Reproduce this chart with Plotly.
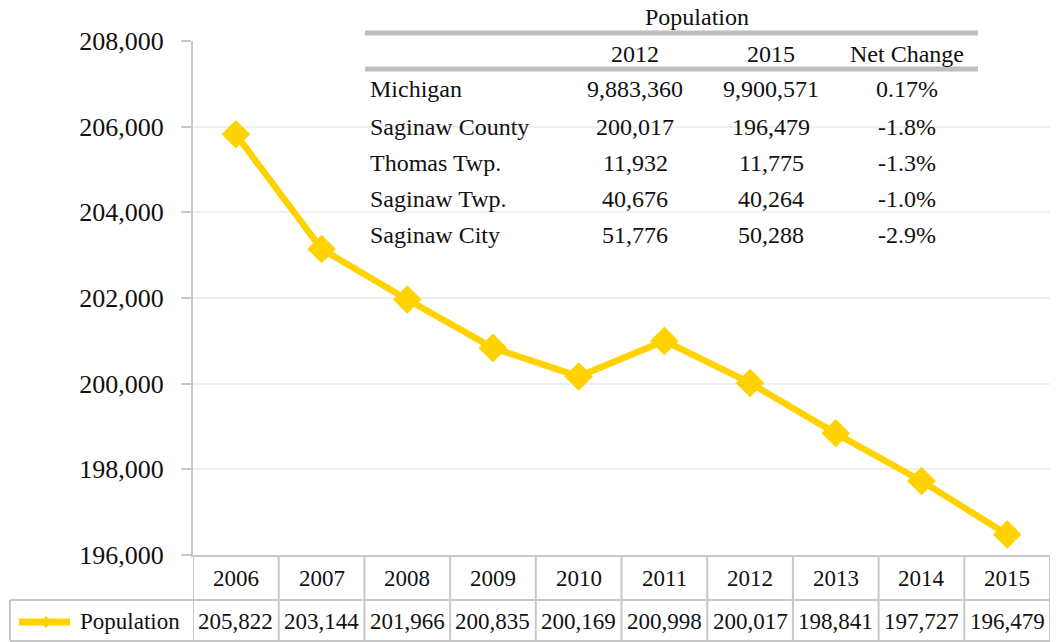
import plotly.graph_objects as go

years = ["2006", "2007", "2008", "2009", "2010", "2011", "2012", "2013", "2014", "2015"]
population = [205822, 203144, 201966, 200835, 200169, 200998, 200017, 198841, 197727, 196479]
series_name = "Population"

inset_title = "Population"
inset_cols = ["2012", "2015", "Net Change"]
inset_places = ["Michigan", "Saginaw County", "Thomas Twp.", "Saginaw Twp.", "Saginaw City"]
inset_2012 = ["9,883,360", "200,017", "11,932", "40,676", "51,776"]
inset_2015 = ["9,900,571", "196,479", "11,775", "40,264", "50,288"]
inset_change = ["0.17%", "-1.8%", "-1.3%", "-1.0%", "-2.9%"]

FONT = "'Liberation Serif', 'Times New Roman', serif"
YEL = "#FFD200"
GRID = "#EFEFEF"
LINEC = "#C8C8C8"
TXT = "#111111"

W, H = 1058, 642
L, R, T, B = 193, 8, 41, 87
PW, PH = W - L - R, H - T - B


def px(x):
    return (x - L) / PW


def py(y):
    return (T + PH - y) / PH


fig = go.Figure()
fig.add_trace(go.Scatter(
    x=list(range(len(years))), y=population, mode="lines+markers",
    line=dict(color=YEL, width=6.5),
    marker=dict(symbol="diamond", size=22, color=YEL),
    showlegend=False, hoverinfo="skip"))

shapes = []
ann = []


def text(x, y, t, size, xref="paper", xanchor="center"):
    ann.append(dict(x=x, y=y, xref=xref, yref="paper", text=t, showarrow=False,
                    xanchor=xanchor, yanchor="middle",
                    font=dict(family=FONT, size=size, color=TXT)))


# data table below the plot
row_line = py(600)
bottom = py(641)
for i in range(len(years) + 1):
    shapes.append(dict(type="line", xref="x", yref="paper", x0=i - 0.5, x1=i - 0.5,
                       y0=0, y1=bottom, line=dict(color=LINEC, width=2)))
for yy in (row_line, bottom):
    shapes.append(dict(type="line", xref="paper", yref="paper", x0=px(10), x1=1,
                       y0=yy, y1=yy, line=dict(color=LINEC, width=2)))
shapes.append(dict(type="line", xref="paper", yref="paper", x0=px(10), x1=px(10),
                   y0=row_line, y1=bottom, line=dict(color=LINEC, width=2)))
for i, (yr, v) in enumerate(zip(years, population)):
    text(i, py(578), yr, 23, xref="x")
    text(i, py(621), f"{v:,}", 23, xref="x")

# legend key
ky = py(622)
shapes.append(dict(type="line", xref="paper", yref="paper", x0=px(19), x1=px(70),
                   y0=ky, y1=ky, line=dict(color=YEL, width=7)))
cx, hw, hh = px(46), 6 / PW, 6 / PH
shapes.append(dict(type="path", xref="paper", yref="paper",
                   path=f"M {cx-hw} {ky} L {cx} {ky+hh} L {cx+hw} {ky} L {cx} {ky-hh} Z",
                   fillcolor=YEL, line=dict(color=YEL, width=0)))
text(px(130), py(621), series_name, 23)

# inset table
for yy in (33, 69):
    shapes.append(dict(type="line", xref="paper", yref="paper", x0=px(365), x1=px(978),
                       y0=py(yy), y1=py(yy), line=dict(color="#BFBFBF", width=5)))
text(px(697), py(17), inset_title, 24)
col_x = [635, 771, 907]
for cxp, c in zip(col_x, inset_cols):
    text(px(cxp), py(54), c, 24)
row_y = [89, 127, 163, 199, 235]
for ry, name, a, b, c in zip(row_y, inset_places, inset_2012, inset_2015, inset_change):
    text(px(368), py(ry), name, 24, xanchor="left")
    for cxp, t in zip(col_x, (a, b, c)):
        text(px(cxp), py(ry), t, 24)

fig.update_layout(
    width=W, height=H,
    margin=dict(l=L, r=R, t=T, b=B),
    paper_bgcolor="white", plot_bgcolor="white",
    font=dict(family=FONT, color=TXT),
    shapes=shapes, annotations=ann,
    xaxis=dict(range=[-0.5, len(years) - 0.5], showticklabels=False, showgrid=False,
               zeroline=False, showline=True, linecolor=LINEC, linewidth=2, ticks=""),
    yaxis=dict(range=[196000, 208000], dtick=2000, tickformat=",", showgrid=True,
               gridcolor=GRID, gridwidth=2, zeroline=False, showline=True,
               linecolor=LINEC, linewidth=2, ticks="outside", ticklen=10,
               tickcolor=LINEC, tickwidth=2, ticklabelstandoff=12,
               tickfont=dict(family=FONT, size=26, color=TXT)),
)

fig.write_html("out.html", config={"displayModeBar": False},
               post_script="document.body.style.margin='0';")
